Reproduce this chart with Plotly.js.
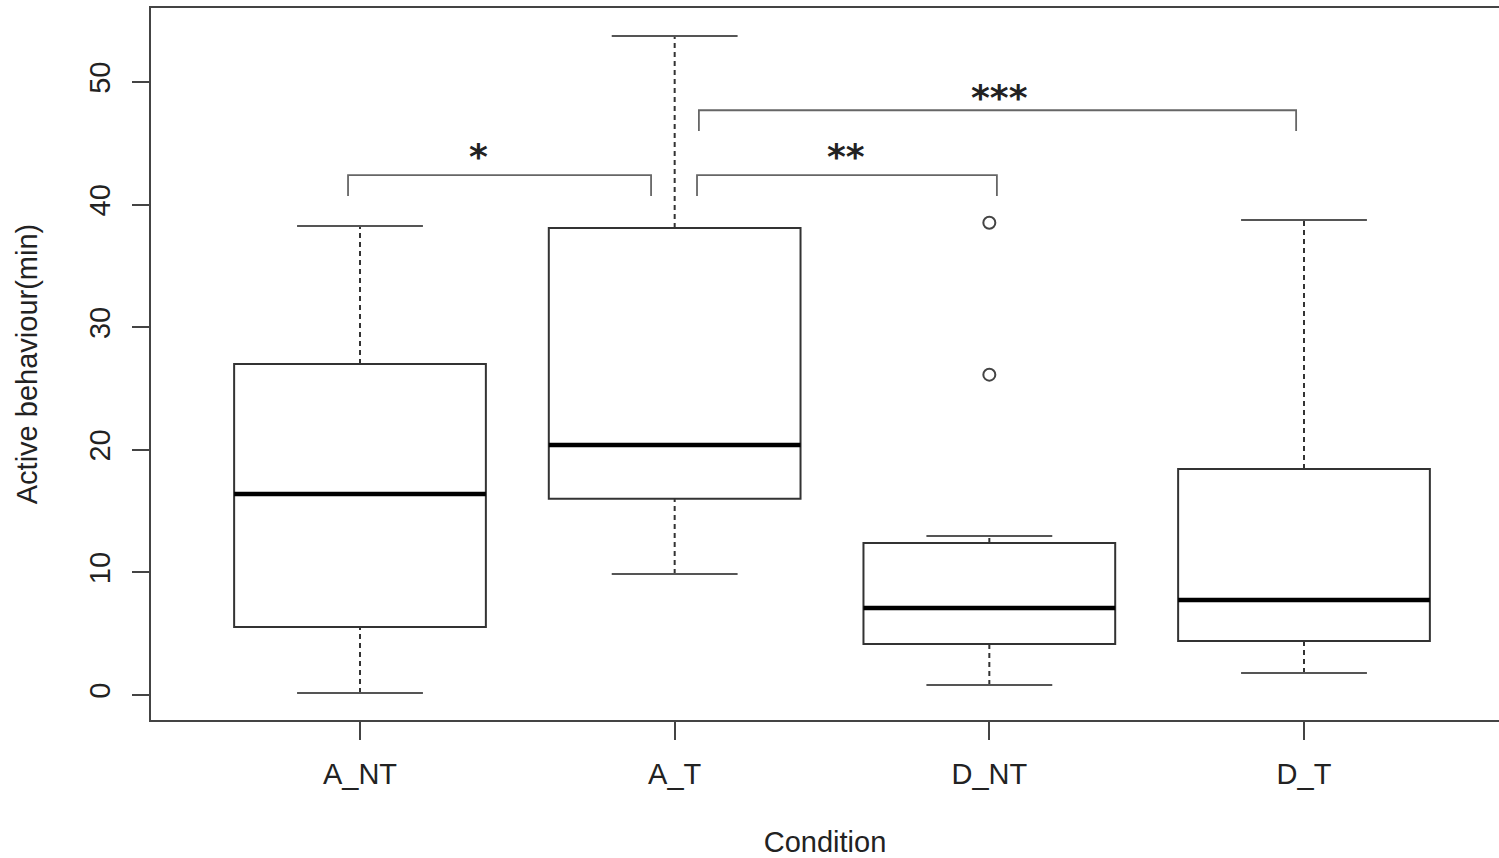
<!DOCTYPE html>
<html>
<head>
<meta charset="utf-8">
<script src="https://cdn.plot.ly/plotly-3.0.1.min.js"></script>
<style>html,body{margin:0;padding:0;background:#fff;}#chart{width:1499px;height:858px;}</style>
</head>
<body>
<div id="chart"></div>
<script>
// ---- data ----
const categories = ["A_NT", "A_T", "D_NT", "D_T"];
const whiskerLow  = [0.16, 9.87, 0.82, 1.8];
const q1          = [5.55, 16.0, 4.16, 4.4];
const medians     = [16.4, 20.4, 7.1, 7.75];
const q3          = [27.0, 38.1, 12.4, 18.43];
const whiskerHigh = [38.25, 53.75, 12.97, 38.74];
const outlierGroup = ["D_NT", "D_NT"];
const outlierValues = [26.13, 38.52];
// significance brackets
const sigFrom   = [0.962, 2.071, 2.077];
const sigTo     = [1.925, 3.024, 3.975];
const sigBar    = [42.41, 42.41, 47.7];
const sigLeg    = [40.7, 40.7, 46.0];
const sigLabels = ["*", "**", "***"];
const sigLabelX = [1.378, 2.545, 3.031];
const sigLabelY = [43.9, 43.9, 48.7];
const yTicks = [0, 10, 20, 30, 40, 50];

// ---- build ----
const xPos = categories.map((c, i) => i + 1);
const boxHalf = 0.4, capHalf = 0.2;
const lineCol = "#333333";
const shapes = [];
xPos.forEach((x, i) => {
  shapes.push({type: "rect", xref: "x", yref: "y", x0: x - boxHalf, x1: x + boxHalf, y0: q1[i], y1: q3[i],
    line: {color: lineCol, width: 2}, fillcolor: "rgba(0,0,0,0)"});
  shapes.push({type: "line", xref: "x", yref: "y", x0: x - boxHalf, x1: x + boxHalf, y0: medians[i], y1: medians[i],
    line: {color: "#000", width: 4.5}});
  shapes.push({type: "line", xref: "x", yref: "y", x0: x, x1: x, y0: q3[i], y1: whiskerHigh[i],
    line: {color: lineCol, width: 2, dash: "5px,4px"}});
  shapes.push({type: "line", xref: "x", yref: "y", x0: x, x1: x, y0: whiskerLow[i], y1: q1[i],
    line: {color: lineCol, width: 2, dash: "5px,4px"}});
  shapes.push({type: "line", xref: "x", yref: "y", x0: x - capHalf, x1: x + capHalf, y0: whiskerHigh[i], y1: whiskerHigh[i],
    line: {color: "#555", width: 2}});
  shapes.push({type: "line", xref: "x", yref: "y", x0: x - capHalf, x1: x + capHalf, y0: whiskerLow[i], y1: whiskerLow[i],
    line: {color: "#555", width: 2}});
});
sigLabels.forEach((lab, i) => {
  shapes.push({type: "path", xref: "x", yref: "y",
    path: `M ${sigFrom[i]},${sigLeg[i]} L ${sigFrom[i]},${sigBar[i]} L ${sigTo[i]},${sigBar[i]} L ${sigTo[i]},${sigLeg[i]}`,
    line: {color: "#666", width: 1.8}});
});
const annotations = sigLabels.map((lab, i) => ({
  x: sigLabelX[i], y: sigLabelY[i], xref: "x", yref: "y", text: lab, showarrow: false,
  font: {family: "DejaVu Sans", size: 36, color: "#222", weight: "bold"}, xanchor: "center", yanchor: "middle"
}));

const outlierX = outlierGroup.map(g => categories.indexOf(g) + 1);
const traces = [{
  type: "scatter", mode: "markers", x: outlierX, y: outlierValues,
  marker: {symbol: "circle-open", size: 12, color: "#444", line: {width: 2, color: "#444"}},
  hoverinfo: "y", showlegend: false
}];

const fontFam = "Liberation Sans, Arial, sans-serif";
const fs = 29;
const layout = {
  width: 1499, height: 858,
  margin: {l: 151, r: 0, t: 8, b: 138},
  paper_bgcolor: "#fff", plot_bgcolor: "#fff",
  showlegend: false,
  font: {family: fontFam, size: fs, color: "#222"},
  xaxis: {
    range: [0.3358, 4.6197], tickvals: xPos, ticktext: categories,
    showgrid: false, zeroline: false, showline: true, mirror: true, linecolor: "#444", linewidth: 2,
    ticks: "outside", ticklen: 18, tickwidth: 2, tickcolor: "#444",
    tickfont: {family: fontFam, size: fs, color: "#222"},
    ticklabelstandoff: 9,
    title: {text: "Condition", font: {family: fontFam, size: fs, color: "#222"}, standoff: 46}
  },
  yaxis: {
    range: [-2.04, 56.04], tickvals: yTicks, ticktext: yTicks.map(String),
    showgrid: false, zeroline: false, showline: true, mirror: false, linecolor: "#444", linewidth: 2,
    ticks: "outside", ticklen: 17, tickwidth: 2, tickcolor: "#444", tickangle: -90,
    tickfont: {family: fontFam, size: fs, color: "#222"},
    ticklabelstandoff: 10,
    title: {text: "Active behaviour(min)", font: {family: fontFam, size: fs, color: "#222"}, standoff: 38}
  },
  shapes: shapes,
  annotations: annotations
};
Plotly.newPlot("chart", traces, layout, {displayModeBar: false, staticPlot: true});
</script>
</body>
</html>
